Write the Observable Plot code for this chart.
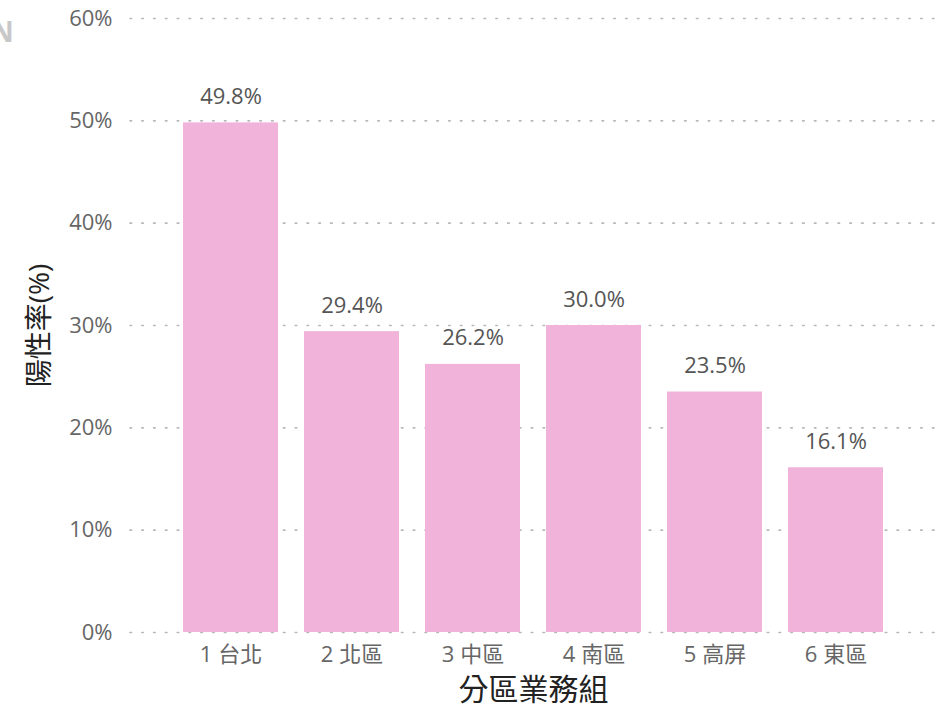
<!DOCTYPE html>
<html>
<head>
<meta charset="utf-8">
<script src="https://cdn.jsdelivr.net/npm/d3@7"></script>
<script src="https://cdn.jsdelivr.net/npm/@observablehq/plot@0.6"></script>
<style>
  body { margin: 0; background: #fff; }
  #wrap { position: relative; width: 936px; height: 707px; overflow: hidden; }
  #cut { position: absolute; left: -9px; top: 12px; font: bold 28px "Open Sans", sans-serif; color: #c8c8c8; }
</style>
</head>
<body>
<div id="wrap"><div id="cut">N</div></div>
<script>
const categories = ["1 台北", "2 北區", "3 中區", "4 南區", "5 高屏", "6 東區"];
const values = [49.8, 29.4, 26.2, 30.0, 23.5, 16.1];
const yTicks = [0, 10, 20, 30, 40, 50, 60];

const data = categories.map((c, i) => ({cat: c, v: values[i]}));
const font = "'Open Sans', 'Noto Sans CJK TC', sans-serif";

const chart = Plot.plot({
  width: 936,
  height: 707,
  marginLeft: 130,
  marginRight: 0,
  marginTop: 18,
  marginBottom: 75,
  style: {fontFamily: font, background: "transparent"},
  x: {domain: categories, paddingInner: 0.216, paddingOuter: 0.43, label: null},
  y: {domain: [0, 60], label: null},
  marks: [
    Plot.ruleY(yTicks, {stroke: "#b8b8b8", strokeWidth: 1.6, strokeDasharray: "1.6,10.2", strokeLinecap: "round"}),
    Plot.barY(data, {x: "cat", y: "v", fill: "#F1B3DA"}),
    Plot.text(data, {x: "cat", y: "v", text: d => d.v.toFixed(1) + "%", dy: -26, fill: "#555", fontSize: 22}),
    Plot.axisY(yTicks, {tickSize: 0, tickPadding: 18, tickFormat: d => d + "%", fontSize: 22, fill: "#666", label: null}),
    Plot.axisX({tickSize: 0, tickPadding: 14, fontSize: 22, fill: "#666", label: null}),
    Plot.text(["陽性率(%)"], {frameAnchor: "left", textAnchor: "middle", dx: -90, rotate: -90, fontSize: 28, fill: "#222"}),
    Plot.text(["分區業務組"], {frameAnchor: "bottom", lineAnchor: "middle", dy: 58, fontSize: 30, fill: "#222"})
  ]
});
document.getElementById("wrap").appendChild(chart);
</script>
</body>
</html>
